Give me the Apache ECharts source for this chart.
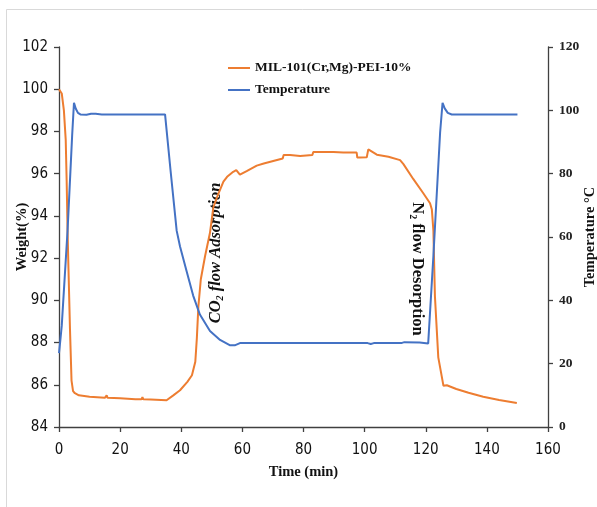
<!DOCTYPE html>
<html>
<head>
<meta charset="utf-8">
<script src="https://cdn.jsdelivr.net/npm/echarts@6/dist/echarts.min.js"></script>
<style>
html,body{margin:0;padding:0;background:#fff;}
#chart{width:597px;height:507px;}
</style>
</head>
<body>
<div id="chart"></div>
<script>
// ---- data ----
var weightName = 'MIL-101(Cr,Mg)-PEI-10%';
var tempName = 'Temperature';

var weightTime = [0, 0.6, 0.9, 1.6, 2.2, 2.5, 2.8, 3.1, 3.6, 4.1, 4.6, 5.2, 6.5, 10, 15, 15.6, 15.9, 16.3, 20, 25, 27, 27.3, 27.6, 30, 35.2,
  37.4, 39.6, 42, 43.5, 44.6, 45.1, 45.6, 46.4, 47.8, 49.4, 50.5, 52, 53.8, 55, 57, 58, 59.2, 61.4, 64.7, 67, 70.1, 73.2, 73.5, 75.6,
  78.9, 82.9, 83.2, 86, 89.8, 93, 97.4, 97.6, 98.5, 100.7, 101.2, 104, 107.8, 111.6, 112.7, 115.9, 119.2, 121.4, 122, 122.5, 123, 124.1,
  125.8, 126.9, 130, 134, 138.8, 144, 149.8];
var weightValues = [100, 99.95, 99.8, 99.0, 97.6, 95.7, 93.3, 91.5, 88.6, 86.2, 85.7, 85.6, 85.5, 85.43, 85.38, 85.5, 85.38, 85.37, 85.36, 85.32, 85.31, 85.42, 85.31, 85.3, 85.27,
  85.5, 85.74, 86.14, 86.45, 87.09, 88.2, 89.7, 91.0, 92.1, 93.2, 94.4, 95.0, 95.62, 95.85, 96.09, 96.17, 95.95, 96.12, 96.38, 96.48, 96.6, 96.72, 96.88, 96.88,
  96.84, 96.88, 97.03, 97.03, 97.03, 97.0, 97.0, 96.76, 96.76, 96.78, 97.15, 96.9, 96.8, 96.64, 96.45, 95.75, 95.07, 94.6, 94.3, 93.3, 90.2, 87.3,
  85.95, 85.98, 85.8, 85.62, 85.43, 85.28, 85.14];

var tempTime = [0, 0.4, 0.9, 2.8, 4.3, 4.9, 5.5, 6.2, 7, 9, 10.5, 12, 14, 34.7, 36.5, 38.5, 39.6, 41.8, 43.9, 46.1, 49.4, 52.7, 56, 57.5, 59.2,
  80, 101, 102, 103, 112, 113, 118, 120.8, 122.5, 124.7, 125.5, 126.2, 127.2, 128.5, 150];
var tempValues = [23.3, 27, 32, 62, 92, 102.4, 100.5, 99.2, 98.7, 98.6, 98.9, 98.9, 98.7, 98.7, 81, 62, 57, 49, 41.5, 35.5, 30.3, 27.5, 25.8, 25.8, 26.5,
  26.5, 26.5, 26.2, 26.5, 26.5, 26.8, 26.7, 26.4, 54, 93, 102.4, 100.6, 99.2, 98.7, 98.7];

var xTicks = {min: 0, max: 160, interval: 20};
var weightTicks = {min: 84, max: 102, interval: 2};
var tempTicks = {min: 0, max: 120, interval: 20};

function pairs(xs, ys) { return xs.map(function (x, i) { return [x, ys[i]]; }); }

var serif = "'Liberation Serif', 'Times New Roman', serif";
var narrow = "'Liberation Sans Narrow', 'DejaVu Sans Condensed', 'Liberation Sans', sans-serif";
var axisColor = '#404040';

var chart = echarts.init(document.getElementById('chart'), null, {renderer: 'canvas'});
chart.setOption({
  animation: false,
  backgroundColor: '#ffffff',
  grid: {left: 59, right: 49, top: 47, bottom: 80, containLabel: false, outerBoundsMode: 'none'},
  legend: {
    orient: 'vertical', left: 223, top: 56, icon: 'rect', itemWidth: 22, itemHeight: 2, itemGap: 8,
    textStyle: {fontFamily: serif, fontWeight: 'bold', fontSize: 13.5, color: '#111'},
    data: [weightName, tempName]
  },
  xAxis: {
    type: 'value', min: xTicks.min, max: xTicks.max, interval: xTicks.interval,
    name: 'Time (min)', nameLocation: 'middle', nameGap: 38, nameMoveOverlap: false,
    nameTextStyle: {fontFamily: serif, fontWeight: 'bold', fontSize: 14.5, color: '#111'},
    axisLine: {show: true, onZero: false, lineStyle: {color: axisColor, width: 1.3}},
    axisTick: {show: true, inside: false, length: 5, lineStyle: {color: axisColor, width: 1.3}},
    axisLabel: {margin: 16, fontFamily: narrow, fontSize: 15, color: '#111'},
    splitLine: {show: false}
  },
  yAxis: [{
    type: 'value', position: 'left', min: weightTicks.min, max: weightTicks.max, interval: weightTicks.interval,
    name: 'Weight(%)', nameLocation: 'middle', nameGap: 29, nameRotate: 90, nameMoveOverlap: false,
    nameTextStyle: {fontFamily: serif, fontWeight: 'bold', fontSize: 14.5, color: '#111'},
    axisLine: {show: true, onZero: false, lineStyle: {color: axisColor, width: 1.3}},
    axisTick: {show: true, inside: false, length: 5, lineStyle: {color: axisColor, width: 1.3}},
    axisLabel: {margin: 11, fontFamily: narrow, fontSize: 15, color: '#111'},
    splitLine: {show: false}
  }, {
    type: 'value', position: 'right', min: tempTicks.min, max: tempTicks.max, interval: tempTicks.interval,
    name: 'Temperature °C', nameLocation: 'middle', nameGap: 35, nameRotate: 90, nameMoveOverlap: false,
    nameTextStyle: {fontFamily: serif, fontWeight: 'bold', fontSize: 14.5, color: '#111'},
    axisLine: {show: true, onZero: false, lineStyle: {color: axisColor, width: 1.3}},
    axisTick: {show: true, inside: false, length: 5, lineStyle: {color: axisColor, width: 1.3}},
    axisLabel: {margin: 11, fontFamily: serif, fontWeight: 'bold', fontSize: 13.5, color: '#222'},
    splitLine: {show: false}
  }],
  series: [{
    name: weightName, type: 'line', yAxisIndex: 0, showSymbol: false, symbol: 'none',
    lineStyle: {color: '#ED7D31', width: 2}, itemStyle: {color: '#ED7D31'},
    data: pairs(weightTime, weightValues)
  }, {
    name: tempName, type: 'line', yAxisIndex: 1, showSymbol: false, symbol: 'none',
    lineStyle: {color: '#4472C4', width: 2}, itemStyle: {color: '#4472C4'},
    data: pairs(tempTime, tempValues)
  }],
  graphic: [{
    type: 'rect', silent: true, z: -1,
    shape: {x: 6.5, y: 9.5, width: 700, height: 700},
    style: {fill: 'none', stroke: '#d9d9d9', lineWidth: 1}
  }, {
    type: 'text', x: 216, y: 253, rotation: Math.PI / 2,
    style: {
      text: '{a|CO}{s|2}{a| flow Adsorption}',
      align: 'center', verticalAlign: 'middle',
      rich: {
        a: {fontFamily: serif, fontWeight: 'bold', fontStyle: 'italic', fontSize: 16.5, fill: '#111'},
        s: {fontFamily: serif, fontWeight: 'bold', fontStyle: 'italic', fontSize: 10, fill: '#111', padding: [8, 0, 0, 0]}
      }
    }
  }, {
    type: 'text', x: 417, y: 269, rotation: -Math.PI / 2,
    style: {
      text: '{a|N}{s|2}{a| flow Desorption}',
      align: 'center', verticalAlign: 'middle',
      rich: {
        a: {fontFamily: serif, fontWeight: 'bold', fontSize: 16.5, fill: '#111'},
        s: {fontFamily: serif, fontWeight: 'bold', fontSize: 10, fill: '#111', padding: [8, 0, 0, 0]}
      }
    }
  }]
});
</script>
</body>
</html>
